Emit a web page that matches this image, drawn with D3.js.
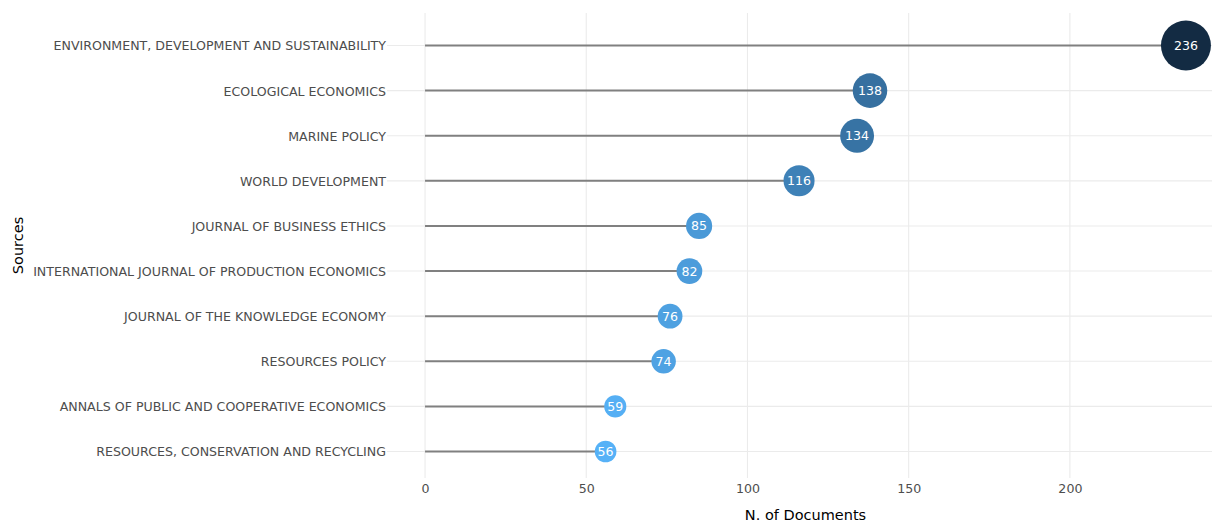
<!DOCTYPE html>
<html><head><meta charset="utf-8">
<script src="https://cdn.jsdelivr.net/npm/d3@7"></script>
<style>body{margin:0;background:#fff;} svg{display:block;}</style>
</head><body>
<svg id="chart" width="1212" height="523"></svg>
<script>
const sources = [
  "ENVIRONMENT, DEVELOPMENT AND SUSTAINABILITY",
  "ECOLOGICAL ECONOMICS",
  "MARINE POLICY",
  "WORLD DEVELOPMENT",
  "JOURNAL OF BUSINESS ETHICS",
  "INTERNATIONAL JOURNAL OF PRODUCTION ECONOMICS",
  "JOURNAL OF THE KNOWLEDGE ECONOMY",
  "RESOURCES POLICY",
  "ANNALS OF PUBLIC AND COOPERATIVE ECONOMICS",
  "RESOURCES, CONSERVATION AND RECYCLING"
];
const documents = [236, 138, 134, 116, 85, 82, 76, 74, 59, 56];
const xTicks = [0, 50, 100, 150, 200];
const xTitle = "N. of Documents";
const yTitle = "Sources";

const svg = d3.select("#chart");
const font = "'DejaVu Sans', Verdana, sans-serif";
const plotTop = 13, plotBottom = 478;
const x = d3.scaleLinear().domain([-11.8, 247.8]).range([387, 1224]);
const y = d3.scalePoint().domain(sources).range([45.5, 451.5]);
const r = d3.scaleLinear().domain([56, 236]).range([10.8, 25]);
const color = d3.scaleLinear().domain([56, 236]).range(["#56B1F7", "#132B43"]).interpolate(d3.interpolateLab);

const data = sources.map((s, i) => ({s, v: documents[i]}));

// gridlines
const grid = svg.append("g");
grid.selectAll("line.v").data(xTicks).join("line")
  .attr("x1", d => x(d)).attr("x2", d => x(d))
  .attr("y1", plotTop).attr("y2", plotBottom)
  .attr("stroke", "#ebebeb").attr("stroke-width", 1.1);
grid.selectAll("line.h").data(sources).join("line")
  .attr("x1", x.range()[0]).attr("x2", 1212)
  .attr("y1", d => y(d)).attr("y2", d => y(d))
  .attr("stroke", "#ebebeb").attr("stroke-width", 1.1);

// x axis labels
const xAxis = d3.axisBottom(x).tickValues(xTicks).tickSize(0).tickPadding(0);
const gx = svg.append("g").attr("transform", `translate(0,${plotBottom})`).call(xAxis);
gx.select(".domain").remove();
gx.selectAll("text").attr("dy", "0").attr("y", 15).attr("fill", "#4d4d4d")
  .style("font-family", font).style("font-size", "12.6px");

// y axis labels
const yAxis = d3.axisLeft(y).tickSize(0).tickPadding(0);
const gy = svg.append("g").attr("transform", `translate(386,0)`).call(yAxis);
gy.select(".domain").remove();
gy.selectAll("text").attr("fill", "#4d4d4d").attr("dy", "0.35em")
  .style("font-family", font).style("font-size", "12.6px");

// segments
svg.append("g").selectAll("line").data(data).join("line")
  .attr("x1", x(0)).attr("x2", d => x(d.v))
  .attr("y1", d => y(d.s)).attr("y2", d => y(d.s))
  .attr("stroke", "#808080").attr("stroke-width", 2);

// circles
svg.append("g").selectAll("circle").data(data).join("circle")
  .attr("cx", d => x(d.v)).attr("cy", d => y(d.s))
  .attr("r", d => r(d.v)).attr("fill", d => color(d.v));

// labels
svg.append("g").selectAll("text").data(data).join("text")
  .attr("x", d => x(d.v)).attr("y", d => y(d.s)).attr("dy", "0.36em")
  .attr("text-anchor", "middle").attr("fill", "#ffffff")
  .style("font-family", font).style("font-size", "12.6px")
  .text(d => d.v);

// titles
svg.append("text").attr("x", (387 + 1224) / 2).attr("y", 520)
  .attr("text-anchor", "middle").attr("fill", "#000")
  .style("font-family", font).style("font-size", "14.5px").text(xTitle);
svg.append("text").attr("transform", `translate(23,${(plotTop + plotBottom) / 2}) rotate(-90)`)
  .attr("text-anchor", "middle").attr("fill", "#000")
  .style("font-family", font).style("font-size", "14.5px").text(yTitle);
</script>
</body></html>
